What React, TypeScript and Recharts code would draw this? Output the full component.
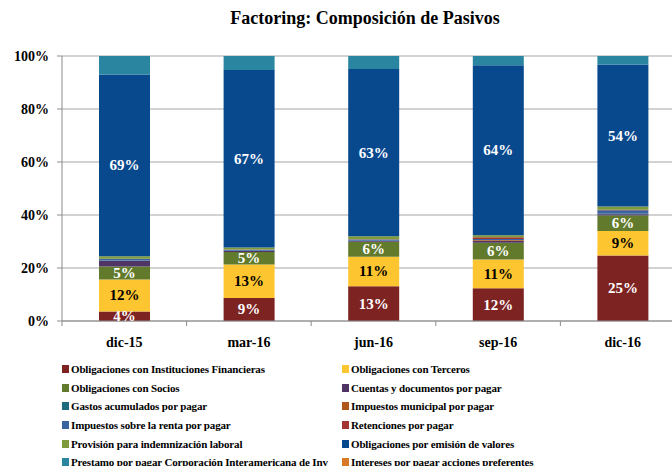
import React from "react";
import { BarChart, Bar, XAxis, YAxis, CartesianGrid, LabelList } from "recharts";

const categories = ["dic-15", "mar-16", "jun-16", "sep-16", "dic-16"];

// porcentajes (de abajo hacia arriba)
const instFinancieras = [3.6, 8.7, 13.1, 12.4, 24.8];
const terceros = [12.1, 12.6, 11.2, 10.8, 9.3];
const socios = [4.9, 4.8, 5.6, 6.4, 5.8];
const cuentas = [2.2, 0.3, 0.3, 0.6, 0.5];
const gastos = [0.1, 0.1, 0.1, 0.1, 0.1];
const municipal = [0, 0, 0, 0.3, 0.1];
const renta = [0.6, 0.4, 0.5, 0.4, 1.3];
const retenciones = [0, 0.1, 0.1, 0.6, 0.2];
const provision = [1.0, 0.8, 1.1, 0.8, 1.2];
const emision = [68.6, 67.0, 63.2, 64.2, 53.8];
const prestamo = [7.0, 5.3, 4.9, 3.5, 3.2];
const intereses = [0, 0, 0, 0, 0];

const yTicks = [0, 0.2, 0.4, 0.6, 0.8, 1];

const SERIES = [
  { key: "inst", name: "Obligaciones con Instituciones Financieras", values: instFinancieras, color: "#7d2322", label: "#ffffff" },
  { key: "terc", name: "Obligaciones con Terceros", values: terceros, color: "#fdc52f", label: "#000000" },
  { key: "soc", name: "Obligaciones con Socios", values: socios, color: "#627a2b", label: "#ffffff" },
  { key: "cta", name: "Cuentas y documentos por pagar", values: cuentas, color: "#4e3566" },
  { key: "gas", name: "Gastos acumulados por pagar", values: gastos, color: "#1f6b7e" },
  { key: "mun", name: "Impuestos municipal por pagar", values: municipal, color: "#b0581b" },
  { key: "ren", name: "Impuestos sobre la renta por pagar", values: renta, color: "#3a63a2" },
  { key: "ret", name: "Retenciones por pagar", values: retenciones, color: "#a33431" },
  { key: "pro", name: "Provisión para indemnización laboral", values: provision, color: "#7e9a3a" },
  { key: "emi", name: "Obligaciones por emisión de valores", values: emision, color: "#08498e", label: "#ffffff" },
  { key: "pre", name: "Prestamo por pagar Corporación Interamericana de Inv", values: prestamo, color: "#2a86a0" },
  { key: "int", name: "Intereses por pagar acciones preferentes", values: intereses, color: "#d97a29" },
];

const data = categories.map((c, i) => {
  const row: Record<string, string | number> = { cat: c };
  SERIES.forEach((s) => {
    row[s.key] = s.values[i];
  });
  return row;
});

const FONT = "'Liberation Serif', 'Times New Roman', serif";
const CHART_W = 690;
const CHART_H = 466;
const PLOT_LEFT = 62;
const PLOT_RIGHT = 685;
const BAND = (PLOT_RIGHT - PLOT_LEFT) / categories.length;

function CatTick(props: any) {
  const { x, y, payload, index } = props;
  return (
    <g>
      {index === 0 && (
        <line x1={x - BAND / 2} x2={x - BAND / 2} y1={y} y2={y + 5} stroke="#8c8c8c" />
      )}
      <line x1={x + BAND / 2} x2={x + BAND / 2} y1={y} y2={y + 5} stroke="#8c8c8c" />
      <text x={x} y={y} dy={26} textAnchor="middle" fontFamily={FONT} fontWeight="bold" fontSize={14} fill="#000">
        {payload.value}
      </text>
    </g>
  );
}

function makeLabel(color: string) {
  return (props: any) => {
    const { x, y, width, height, value } = props;
    return (
      <text
        x={x + width / 2}
        y={y + height / 2}
        dy={5}
        textAnchor="middle"
        fontFamily={FONT}
        fontWeight="bold"
        fontSize={15}
        fill={color}
      >
        {`${Math.round(Number(value))}%`}
      </text>
    );
  };
}

export default function App() {
  return (
    <div style={{ position: "fixed", top: 0, left: 0, width: 672, height: 466, overflow: "hidden", background: "#fff" }}>
      <div
        style={{
          position: "absolute",
          top: 8,
          left: 0,
          width: 730,
          textAlign: "center",
          fontFamily: FONT,
          fontWeight: "bold",
          fontSize: 18,
          color: "#000",
        }}
      >
        Factoring: Composición de Pasivos
      </div>
      <BarChart
        width={CHART_W}
        height={CHART_H}
        data={data}
        stackOffset="expand"
        margin={{ top: 56, right: CHART_W - PLOT_RIGHT, left: 0, bottom: 115 }}
        barSize={51}
      >
        <CartesianGrid vertical={false} stroke="#a6a6a6" strokeWidth={1.2} />
        <XAxis
          dataKey="cat"
          height={30}
          tickLine={false}
          axisLine={{ stroke: "#8c8c8c" }}
          tick={<CatTick />}
          interval={0}
          tickMargin={0}
          tickSize={0}
        />
        <YAxis
          width={PLOT_LEFT}
          domain={[0, 1]}
          ticks={yTicks}
          tickFormatter={(v: number) => `${Math.round(v * 100)}%`}
          axisLine={{ stroke: "#8c8c8c" }}
          tickLine={{ stroke: "#8c8c8c" }}
          tickSize={5}
          tickMargin={8}
          tick={{ fontFamily: FONT, fontWeight: "bold", fontSize: 14, fill: "#000" }}
        />
        {SERIES.map((s) => (
          <Bar key={s.key} dataKey={s.key} name={s.name} stackId="a" fill={s.color} isAnimationActive={false}>
            {s.label && <LabelList dataKey={s.key} content={makeLabel(s.label)} />}
          </Bar>
        ))}
      </BarChart>
      <div
        style={{
          position: "absolute",
          top: 360,
          left: 62,
          width: 610,
          display: "grid",
          gridTemplateColumns: "280px 330px",
          fontFamily: FONT,
          fontWeight: "bold",
          fontSize: 11,
          letterSpacing: -0.15,
          color: "#000",
        }}
      >
        {SERIES.map((s) => (
          <div key={s.key} style={{ display: "flex", alignItems: "center", height: 18.6, whiteSpace: "nowrap" }}>
            <span style={{ display: "inline-block", width: 7, height: 8, background: s.color, marginRight: 2 }} />
            {s.name}
          </div>
        ))}
      </div>
    </div>
  );
}
